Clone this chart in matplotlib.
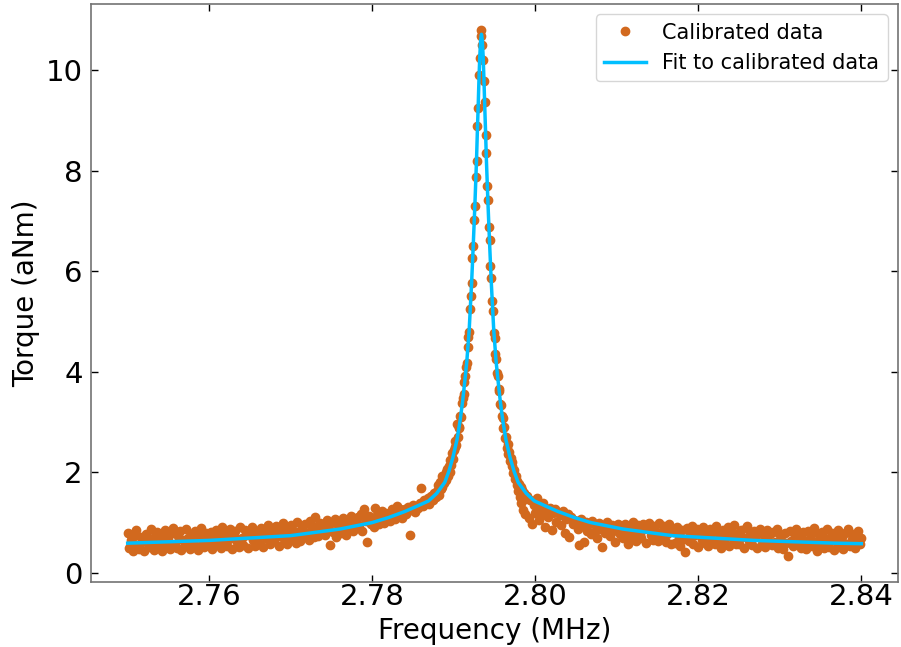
import matplotlib
matplotlib.use("Agg")
import matplotlib.pyplot as plt
import numpy as np

# measured torque, three sweep segments (MHz)
freq_left = np.linspace(2.75, 2.788, 191)
torque_left = [
    0.80, 0.50, 0.66, 0.44, 0.74, 0.86, 0.56, 0.47, 0.71, 0.62,
    0.43, 0.78, 0.68, 0.52, 0.88, 0.60, 0.46, 0.73, 0.82, 0.55,
    0.64, 0.44, 0.76, 0.85, 0.53, 0.69, 0.47, 0.79, 0.90, 0.58,
    0.50, 0.73, 0.83, 0.45, 0.66, 0.56, 0.87, 0.70, 0.48, 0.78,
    0.62, 0.84, 0.53, 0.45, 0.74, 0.89, 0.63, 0.51, 0.79, 0.68,
    0.56, 0.81, 0.47, 0.70, 0.86, 0.60, 0.76, 0.50, 0.91, 0.65,
    0.79, 0.54, 0.67, 0.88, 0.48, 0.73, 0.84, 0.61, 0.52, 0.92,
    0.70, 0.55, 0.85, 0.75, 0.49, 0.80, 0.92, 0.66, 0.54, 0.84,
    0.74, 0.58, 0.90, 0.52, 0.82, 0.69, 0.96, 0.57, 0.77, 0.87,
    0.64, 0.93, 0.74, 0.54, 0.84, 0.99, 0.67, 0.79, 0.58, 0.89,
    0.95, 0.68, 0.84, 0.60, 1.02, 0.78, 0.64, 0.92, 0.74, 0.98,
    0.80, 0.65, 1.03, 0.87, 0.71, 1.12, 0.93, 0.73, 1.00, 0.82,
    0.96, 0.75, 1.05, 0.88, 0.56, 1.00, 0.82, 1.08, 0.72, 0.95,
    1.01, 0.80, 1.10, 0.90, 0.76, 1.05, 0.94, 1.14, 0.84, 1.02,
    0.90, 1.11, 0.95, 1.18, 0.84, 1.27, 1.03, 0.62, 1.13, 0.97,
    1.08, 0.92, 1.30, 1.16, 0.98, 1.12, 1.24, 1.00, 1.19, 1.06,
    1.20, 1.04, 1.28, 1.18, 1.08, 1.33, 1.14, 1.27, 1.10, 1.24,
    1.27, 1.18, 1.31, 0.76, 1.26, 1.35, 1.22, 1.29, 1.30, 1.39,
    1.68, 1.33, 1.45, 1.38, 1.49, 1.36, 1.52, 1.44, 1.58, 1.50, 1.62,
]

freq_peak = np.linspace(2.7881, 2.7989, 109)
torque_peak = [
    1.74, 1.55, 1.80, 1.66, 1.92, 1.70, 1.88, 1.79, 1.86, 2.01,
    1.84, 2.06, 1.92, 2.13, 2.00, 2.25, 2.14, 2.38, 2.27, 2.44,
    2.50, 2.62, 2.55, 2.97, 2.70, 2.91, 2.88, 3.12, 3.10, 3.38,
    3.47, 3.55, 3.80, 3.92, 4.10, 4.18, 4.50, 4.70, 4.80, 5.25,
    5.52, 5.76, 6.26, 6.50, 7.02, 7.30, 7.88, 8.20, 8.90, 9.25,
    9.90, 10.25, 10.68, 10.80, 10.50, 10.20, 9.80,
    9.38, 8.72, 8.35, 7.70, 7.42, 6.88, 6.62, 6.10, 5.86, 5.42,
    5.22, 4.78, 4.68, 4.35, 4.26, 3.98, 3.92, 3.66, 3.62, 3.36,
    3.34, 3.12, 3.08, 2.88, 2.90, 2.68, 2.70, 2.49, 2.56, 2.36,
    2.40, 2.22, 2.28, 2.12, 2.20, 1.98, 2.04, 1.86, 1.92, 1.74,
    1.83, 1.62, 1.76, 1.50, 1.70, 1.38, 1.64, 1.25, 1.58, 1.47, 1.18, 1.52,
]

freq_right = np.linspace(2.799, 2.84, 206)
torque_right = [
    1.52, 1.10, 1.44, 0.97, 1.35, 1.20, 1.49, 1.05, 1.30, 1.16,
    1.38, 0.92, 1.25, 1.12, 1.30, 0.86, 1.19, 1.27, 1.02, 1.21,
    1.15, 0.95, 1.24, 0.80, 1.08, 1.18, 0.72, 1.12, 0.98, 1.06,
    1.03, 0.88, 0.56, 1.07, 0.93, 0.62, 1.01, 0.84, 0.97, 0.78,
    1.04, 0.82, 0.96, 0.70, 0.99, 0.87, 0.52, 0.93, 0.80, 1.01,
    0.86, 0.74, 0.95, 0.90, 0.62, 0.84, 0.98, 0.77, 0.89, 0.70,
    0.98, 0.78, 0.58, 0.92, 0.72, 1.02, 0.84, 0.64, 0.96, 0.76,
    0.70, 0.98, 0.88, 0.60, 0.91, 1.00, 0.76, 0.66, 0.94, 0.82,
    0.64, 1.00, 0.82, 0.70, 0.94, 0.62, 0.78, 0.97, 0.57, 0.88,
    0.82, 0.60, 0.92, 0.70, 0.54, 0.86, 0.68, 0.42, 0.89, 0.64,
    0.80, 0.94, 0.58, 0.76, 0.88, 0.52, 0.82, 0.66, 0.92, 0.60,
    0.77, 0.54, 0.88, 0.69, 0.83, 0.57, 0.93, 0.65, 0.80, 0.50,
    0.86, 0.62, 0.74, 0.91, 0.53, 0.81, 0.68, 0.96, 0.58, 0.78,
    0.57, 0.85, 0.71, 0.50, 0.89, 0.93, 0.63, 0.78, 0.55, 0.83,
    0.71, 0.49, 0.80, 0.88, 0.58, 0.74, 0.52, 0.85, 0.63, 0.77,
    0.55, 0.82, 0.62, 0.87, 0.50, 0.76, 0.66, 0.47, 0.80, 0.59,
    0.34, 0.84, 0.63, 0.54, 0.79, 0.88, 0.57, 0.72, 0.49, 0.81,
    0.66, 0.47, 0.83, 0.60, 0.76, 0.53, 0.89, 0.62, 0.44, 0.78,
    0.59, 0.82, 0.50, 0.70, 0.87, 0.52, 0.65, 0.79, 0.45, 0.74,
    0.61, 0.85, 0.51, 0.71, 0.47, 0.80, 0.57, 0.88, 0.54, 0.68,
    0.78, 0.50, 0.64, 0.83, 0.57, 0.70,
]

# fitted curve
fit_freq = [
    2.7500, 2.7600, 2.7700, 2.7760, 2.7800, 2.7820, 2.7840, 2.7854, 2.7869,
    2.7879, 2.7889, 2.7894, 2.7899, 2.7904, 2.7908, 2.7911, 2.7914, 2.7916,
    2.7919, 2.7922, 2.7924, 2.7926, 2.7928, 2.7929, 2.7930, 2.7931, 2.7932,
    2.7933, 2.7934, 2.7935, 2.7936, 2.7937, 2.7938, 2.7939, 2.7940, 2.7942,
    2.7944, 2.7946, 2.7949, 2.7952, 2.7954, 2.7957, 2.7960, 2.7964, 2.7969,
    2.7974, 2.7979, 2.7989, 2.7999, 2.8014, 2.8028, 2.8048, 2.8068, 2.8108,
    2.8168, 2.8268, 2.8368, 2.8400,
]
fit_torque = [
    0.59, 0.645, 0.74, 0.87, 1.00, 1.10, 1.22, 1.32, 1.43,
    1.58, 1.80, 2.02, 2.30, 2.65, 3.05, 3.43, 3.88, 4.20,
    4.85, 5.80, 6.55, 7.35, 8.25, 8.80, 9.30, 9.85, 10.30,
    10.60, 10.72, 10.60, 10.30, 9.85, 9.30, 8.80, 8.25, 7.35,
    6.55, 5.80, 4.85, 4.20, 3.88, 3.43, 3.05, 2.65, 2.30,
    2.02, 1.80, 1.58, 1.43, 1.32, 1.22, 1.10, 1.00, 0.87,
    0.74, 0.645, 0.59, 0.58,
]

freq = np.concatenate([freq_left, freq_peak, freq_right])
torque = np.concatenate([torque_left, torque_peak, torque_right])

fig = plt.figure(figsize=(9.01, 6.47), dpi=100)
ax = fig.add_axes([91 / 901, 65 / 647, 807 / 901, 578 / 647])

ax.plot(freq, torque, 'o', color='#D2691E', markersize=6, label='Calibrated data')
ax.plot(fit_freq, fit_torque, '-', color='#00BFFF', linewidth=2.5, label='Fit to calibrated data')

ax.set_xticks([2.76, 2.78, 2.80, 2.82, 2.84])
ax.set_yticks([0, 2, 4, 6, 8, 10])
ax.tick_params(direction='in', top=True, right=True, length=5, width=1, labelsize=21)
ax.tick_params(axis='x', pad=1)
ax.tick_params(axis='y', pad=6)
for s in ax.spines.values():
    s.set_color('0.45')
    s.set_linewidth(1.2)

ax.set_xlabel('Frequency (MHz)', fontsize=20)
ax.set_ylabel('Torque (aNm)', fontsize=20)
ax.legend(loc='upper right', fontsize=15, numpoints=1)

fig.savefig('out.png', dpi=100)
